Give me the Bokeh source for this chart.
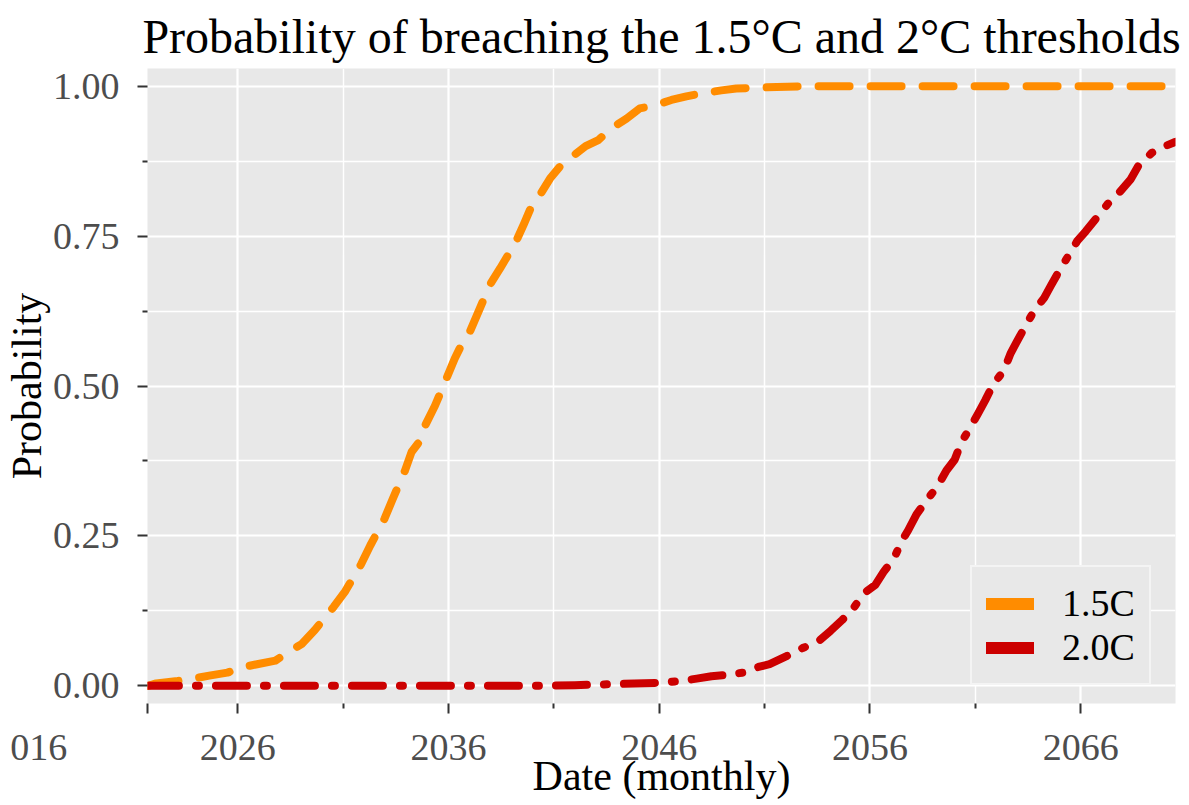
from bokeh.plotting import figure
from bokeh.models import FixedTicker, Legend, LegendItem, Range1d, PrintfTickFormatter
from bokeh.embed import file_html
from bokeh.resources import INLINE

# ---- data (decimal years, probabilities) ----
years_15 = [2021.74, 2022.13, 2023.15, 2024.02, 2024.65, 2025.51, 2026.38, 2026.92, 2027.79,
            2028.34, 2029.05, 2029.66, 2030.56, 2031.11, 2031.86, 2032.29, 2032.97, 2033.36,
            2033.94, 2034.25, 2034.73, 2034.92, 2035.36, 2035.91, 2036.30, 2036.61, 2037.01,
            2037.40, 2037.97, 2038.45, 2039.21, 2039.59, 2039.87, 2040.31, 2040.82, 2041.29,
            2041.81, 2042.51, 2043.11, 2043.66, 2044.45, 2045.08, 2045.68, 2046.58, 2047.29,
            2048.00, 2048.95, 2049.66, 2051.00, 2053.00, 2060.00, 2070.50]
prob_15 = [0.000, 0.004, 0.008, 0.013, 0.017, 0.022, 0.032, 0.036, 0.042,
           0.055, 0.070, 0.093, 0.132, 0.158, 0.203, 0.234, 0.279, 0.312,
           0.359, 0.390, 0.412, 0.436, 0.467, 0.513, 0.546, 0.568, 0.590,
           0.622, 0.669, 0.696, 0.741, 0.771, 0.794, 0.817, 0.846, 0.866,
           0.881, 0.900, 0.910, 0.928, 0.946, 0.963, 0.967, 0.977, 0.983,
           0.988, 0.993, 0.996, 0.998, 1.000, 1.000, 1.000]

years_20 = [2021.74, 2030.00, 2040.00, 2042.00, 2044.00, 2046.00, 2047.00, 2047.78, 2048.48,
            2049.16, 2049.98, 2050.76, 2051.24, 2052.02, 2052.81, 2053.59, 2054.14, 2054.69,
            2055.21, 2055.70, 2056.25, 2056.65, 2057.15, 2057.50, 2057.81, 2058.21, 2058.73,
            2059.23, 2059.63, 2060.02, 2060.34, 2060.78, 2061.13, 2061.47, 2061.84, 2062.36,
            2062.67, 2062.94, 2063.35, 2063.80, 2064.27, 2064.58, 2064.98, 2065.45, 2065.84,
            2066.24, 2066.79, 2067.34, 2067.89, 2068.36, 2068.75, 2069.38, 2070.00, 2070.48]
prob_20 = [0.000, 0.000, 0.000, 0.001, 0.003, 0.005, 0.008, 0.012, 0.016,
           0.018, 0.022, 0.032, 0.036, 0.049, 0.063, 0.075, 0.092, 0.110,
           0.129, 0.154, 0.168, 0.190, 0.213, 0.241, 0.259, 0.286, 0.311,
           0.334, 0.359, 0.377, 0.406, 0.432, 0.454, 0.476, 0.502, 0.526,
           0.554, 0.572, 0.598, 0.626, 0.647, 0.667, 0.692, 0.719, 0.742,
           0.758, 0.782, 0.806, 0.825, 0.844, 0.868, 0.889, 0.900, 0.907]

x_major = [2026, 2036, 2046, 2056, 2066]
x_minor = [2031, 2041, 2051, 2061]
y_major = [0.0, 0.25, 0.5, 0.75, 1.0]
y_minor = [0.125, 0.375, 0.625, 0.875]
series_labels = ["1.5C", "2.0C"]
series_colors = ["#ff8c00", "#cc0000"]
edge_tick_label = "016"   # the 2016 tick label, cut by the left edge in the reference
nan = float("nan")

FONT = "Liberation Serif"
X_START, X_END = 2021.72, 2070.5

p = figure(frame_width=1028, frame_height=635,
           x_range=Range1d(X_START, X_END), y_range=Range1d(-0.0295, 1.0295),
           output_backend="svg", toolbar_location=None,
           min_border_left=146, min_border_top=68, min_border_right=7, min_border_bottom=94,
           background_fill_color="#e8e8e8", border_fill_color="white",
           outline_line_color=None)

p.title.text = "Probability of breaching the 1.5\u00b0C and 2\u00b0C thresholds"
p.title.text_font = FONT
p.title.text_font_size = "48px"
p.title.text_font_style = "normal"
p.title.text_color = "black"
p.title.align = "center"
p.title.standoff = 12

r15 = p.line(years_15, prob_15, line_color=series_colors[0], line_width=8,
             line_dash="31 21", line_cap="round", line_join="round")
r20 = p.line(years_20, prob_20, line_color=series_colors[1], line_width=8,
             line_dash="31 17 3 17", line_cap="round", line_join="round")

# legend handles (solid, thicker like the reference legend); hold no visible data
h15 = p.line([nan], [nan], line_color=series_colors[0], line_width=12, line_cap="round")
h20 = p.line([nan], [nan], line_color=series_colors[1], line_width=12, line_cap="round")

legend = Legend(items=[LegendItem(label=series_labels[0], renderers=[h15]),
                       LegendItem(label=series_labels[1], renderers=[h20])],
                location=(823, 18), padding=14, spacing=0,
                glyph_width=48, glyph_height=39, label_height=39, label_standoff=28,
                label_text_font=FONT, label_text_font_size="38px", label_text_color="black",
                label_text_baseline="middle",
                background_fill_color="#e8e8e8", background_fill_alpha=1.0,
                border_line_color="white", border_line_width=2.5)
p.add_layout(legend, "center")

# axes
# the reference's cut "2016" label: shown through a tick at the left edge of the frame
# whose label is padded with no-break spaces so that the digits land at the page edge
edge_tick = round(X_START + 0.02, 2)
p.xaxis.ticker = FixedTicker(ticks=[edge_tick] + x_major, minor_ticks=x_minor)
p.yaxis.ticker = FixedTicker(ticks=y_major, minor_ticks=y_minor)
p.xaxis.formatter = PrintfTickFormatter(format="%d")
p.xaxis.major_label_overrides = {edge_tick: edge_tick_label + "\u00a0" * 23}
p.yaxis.formatter = PrintfTickFormatter(format="%.2f")
p.xaxis.axis_label = "Date (monthly)"
p.yaxis.axis_label = "Probability"
for ax in (p.xaxis, p.yaxis):
    ax.axis_line_color = None
    ax.major_tick_line_color = "#333333"
    ax.minor_tick_line_color = "#333333"
    ax.major_tick_line_width = 2
    ax.minor_tick_line_width = 2
    ax.major_tick_in = 0
    ax.major_tick_out = 10
    ax.minor_tick_in = 0
    ax.minor_tick_out = 5
    ax.major_label_text_font = FONT
    ax.major_label_text_font_size = "38px"
    ax.major_label_text_color = "#4d4d4d"
    ax.axis_label_text_font = FONT
    ax.axis_label_text_font_size = "42px"
    ax.axis_label_text_font_style = "normal"
    ax.axis_label_text_color = "black"
p.xaxis.major_label_standoff = 12
p.yaxis.major_label_standoff = 18
p.xaxis.axis_label_standoff = -18
p.yaxis.axis_label_standoff = 0

# grid
p.grid.grid_line_color = "white"
p.grid.grid_line_width = 2.2
p.grid.minor_grid_line_color = "white"
p.grid.minor_grid_line_width = 1.5
p.xgrid.ticker = FixedTicker(ticks=x_major, minor_ticks=x_minor)

open("out.html", "w").write(file_html(p, INLINE))
